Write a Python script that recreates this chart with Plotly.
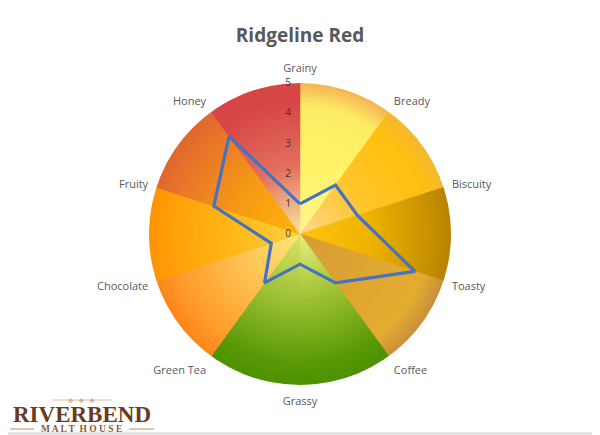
import numpy as np
import plotly.graph_objects as go

# flavour wheel data
categories = ['Grainy', 'Bready', 'Biscuity', 'Toasty', 'Coffee',
              'Grassy', 'Green Tea', 'Chocolate', 'Fruity', 'Honey']
scores = [1, 2, 2, 4, 2, 1, 2, 1, 3, 4]
scale_max = 5
radial_ticks = [0, 1, 2, 3, 4, 5]

# wedge colours between neighbouring categories, centre -> rim
stop_pos = [0.0, 0.45, 0.85, 1.0]
wedge_colors = [
    ('#FFF690', '#FFF468', '#FDEB66', '#F3B352'),
    ('#FCD98E', '#FFC52A', '#FFC010', '#F4B830'),
    ('#FFC410', '#F0B400', '#C99200', '#B88300'),
    ('#D59C38', '#DFA532', '#E3AC30', '#CA8F3C'),
    ('#EAEE80', '#9CC030', '#5A9A08', '#4C9100'),
    ('#DCE466', '#9CC034', '#5A9A0A', '#4D9200'),
    ('#FFE77E', '#FFC050', '#FF9A2A', '#FF8419'),
    ('#FFD040', '#FFB818', '#FFA008', '#FF9406'),
    ('#FFB408', '#F59A16', '#E8742A', '#E0672E'),
    ('#FAE6A0', '#E2705E', '#D84848', '#D74545'),
]


def mix(c1, c2, t):
    a = np.array([int(c1[i:i + 2], 16) for i in (1, 3, 5)])
    b = np.array([int(c2[i:i + 2], 16) for i in (1, 3, 5)])
    c = np.round(a + (b - a) * t).astype(int)
    return f'rgb({c[0]},{c[1]},{c[2]})'


def band_color(stops, frac):
    for j in range(len(stop_pos) - 1):
        if frac <= stop_pos[j + 1]:
            t = (frac - stop_pos[j]) / (stop_pos[j + 1] - stop_pos[j])
            return mix(stops[j], stops[j + 1], t)
    return mix(stops[-1], stops[-1], 0)


n = len(categories)
step = 360 / n
cat_angles = [i * step for i in range(n)]
wedge_angles = [a + step / 2 for a in cat_angles]

fig = go.Figure()

# gradient wedges: largest band first, smaller ones drawn on top
n_bands = 40
for k in range(n_bands, 0, -1):
    r_out = scale_max * k / n_bands
    frac = (k - 0.5) / n_bands
    cols = [band_color(s, frac) for s in wedge_colors]
    fig.add_barpolar(
        r=[r_out] * n,
        theta=wedge_angles,
        width=[step] * n,
        marker=dict(color=cols, line=dict(color=cols, width=0.6)),
        hoverinfo='skip',
        showlegend=False,
    )

fig.add_scatterpolar(
    r=scores + scores[:1],
    theta=cat_angles + cat_angles[:1],
    mode='lines',
    line=dict(color='#4472C4', width=3.2),
    name='Ridgeline Red',
    showlegend=False,
)

# the page puts the figure 8px in from the top-left corner
off = 8
W, H = 600 - off, 435 - off


def px(x):
    return (x - off) / W


def py(y):
    return 1 - (y - off) / H


cx, cy, rad = 300, 234, 151

fig.update_layout(
    width=W, height=H,
    margin=dict(l=0, r=0, t=0, b=0),
    paper_bgcolor='white',
    showlegend=False,
    title=dict(text='<b>Ridgeline Red</b>', x=px(300), xanchor='center',
               y=py(35), yanchor='middle', yref='container',
               font=dict(family='Open Sans', size=19, color='#595959')),
    polar=dict(
        domain=dict(x=[px(cx - rad), px(cx + rad)],
                    y=[py(cy + rad), py(cy - rad)]),
        bgcolor='white',
        barmode='overlay',
        angularaxis=dict(
            rotation=90, direction='clockwise',
            tickmode='array', tickvals=cat_angles, ticktext=categories,
            showgrid=False, showline=False,
            ticks='outside', ticklen=6, tickcolor='rgba(0,0,0,0)',
            tickfont=dict(family='Open Sans', size=11, color='#595959'),
        ),
        radialaxis=dict(
            range=[0, scale_max], tickvals=radial_ticks, angle=90,
            tickangle=90, showgrid=False, showline=False,
            ticks='outside', ticklen=5, tickcolor='rgba(0,0,0,0)',
            side='counterclockwise',
            tickfont=dict(family='Open Sans', size=10, color='#3A3A3A'),
        ),
    ),
)

# logo in the bottom-left corner
fig.add_shape(type='line', xref='paper', yref='paper',
              x0=px(52), x1=px(112), y0=py(400), y1=py(400),
              line=dict(color='#D8BFA6', width=1), layer='below')
fig.add_annotation(text='✤   ✤   ✤', x=px(81), y=py(400),
                   xanchor='center', yanchor='middle',
                   xref='paper', yref='paper', showarrow=False,
                   font=dict(family='DejaVu Sans', size=6, color='#C9A27E'))
fig.add_annotation(text='<b>RIVERBEND</b>', x=px(82), y=py(414),
                   xanchor='center', yanchor='middle',
                   xref='paper', yref='paper', showarrow=False,
                   font=dict(family='Liberation Serif', size=23, color='#6A3B22'))
fig.add_annotation(text='<b>M A L T  H O U S E</b>', x=px(81), y=py(428.5),
                   xanchor='center', yanchor='middle',
                   xref='paper', yref='paper', showarrow=False,
                   font=dict(family='Liberation Serif', size=9.5, color='#8A5A3A'))
for x0, x1 in [(10, 34), (129, 154)]:
    fig.add_shape(type='line', xref='paper', yref='paper',
                  x0=px(x0), x1=px(x1), y0=py(429), y1=py(429),
                  line=dict(color='#C9A27E', width=1.2))

# thin frame lines on the right and bottom edges
fig.add_shape(type='line', xref='paper', yref='paper',
              x0=px(599), x1=px(599), y0=py(0), y1=py(434),
              line=dict(color='#D9D9D9', width=1.5))
fig.add_shape(type='line', xref='paper', yref='paper',
              x0=px(0), x1=px(599), y0=py(433.5), y1=py(433.5),
              line=dict(color='#D9D9D9', width=2))

fig.write_html('out.html')
